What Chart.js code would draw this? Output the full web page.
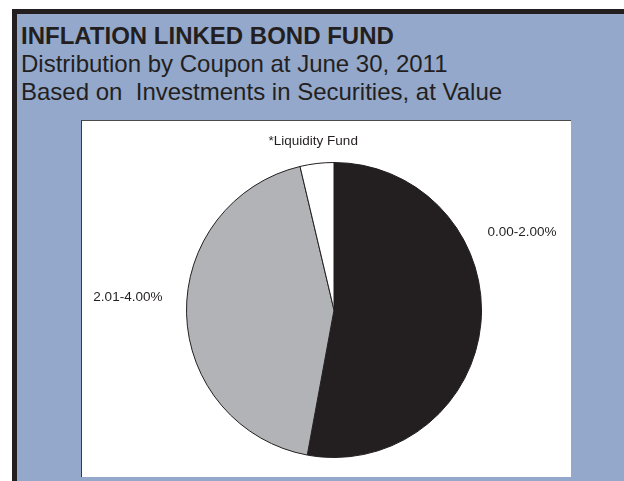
<!DOCTYPE html>
<html>
<head>
<meta charset="utf-8">
<script src="https://cdn.jsdelivr.net/npm/chart.js@4"></script>
<style>
  html, body { margin: 0; padding: 0; background: #ffffff; width: 624px; height: 481px; overflow: hidden; }
  #frame {
    position: absolute; left: 12px; top: 9px; width: 620px; height: 480px;
    background: #93a8cb; border-top: 5px solid #231f20; border-left: 5px solid #231f20;
    box-sizing: border-box;
  }
  .t { position: absolute; left: 4px; font-family: "Liberation Sans", Arial, sans-serif; color: #231f20; white-space: pre; font-size: 24px; line-height: 28px; }
  #t1 { top: 8px; font-weight: bold; }
  #t2 { top: 36px; }
  #t3 { top: 64px; }
  #plot {
    position: absolute; left: 81px; top: 120px; width: 490px; height: 357px;
    background: #ffffff; border-left: 1px solid #3a3a3a; border-top: 1px solid #4a4a4a; box-sizing: border-box;
  }
  #plot canvas { display: block; }
</style>
</head>
<body>
<div id="frame">
  <div class="t" id="t1">INFLATION LINKED BOND FUND</div>
  <div class="t" id="t2">Distribution by Coupon at June 30, 2011</div>
  <div class="t" id="t3">Based on  Investments in Securities, at Value</div>
</div>
<div id="plot"><canvas id="c" width="489" height="356"></canvas></div>
<script>
const categories = ["0.00-2.00%", "2.01-4.00%", "*Liquidity Fund"];
const values = [52.9, 43.4, 3.7];
const sliceColors = ["#231f20", "#b1b3b6", "#ffffff"];

// label placement: angle (deg, clockwise from top) and distance as multiple of radius
const labelPlacement = [
  { angle: 67.5, dist: 1.38 },
  { angle: 273.5, dist: 1.40 },
  { angle: 353, dist: 1.155 }
];

const labelPlugin = {
  id: 'sliceLabels',
  afterDatasetsDraw(chart) {
    const meta = chart.getDatasetMeta(0);
    const arc = meta.data[0];
    const cx = arc.x, cy = arc.y, r = arc.outerRadius;
    const ctx = chart.ctx;
    ctx.save();
    ctx.font = '13.5px "Liberation Sans", Arial, sans-serif';
    ctx.fillStyle = '#231f20';
    ctx.textAlign = 'center';
    ctx.textBaseline = 'middle';
    categories.forEach((lab, i) => {
      const p = labelPlacement[i];
      const a = p.angle * Math.PI / 180;
      ctx.fillText(lab, cx + Math.sin(a) * r * p.dist, cy - Math.cos(a) * r * p.dist);
    });
    ctx.restore();
  }
};

new Chart(document.getElementById('c'), {
  type: 'pie',
  data: {
    labels: categories,
    datasets: [{
      data: values,
      backgroundColor: sliceColors,
      borderColor: '#231f20',
      borderWidth: 1
    }]
  },
  options: {
    responsive: false,
    animation: false,
    rotation: 0,
    layout: { padding: { left: 104, right: 89, top: 41, bottom: 19 } },
    plugins: { legend: { display: false }, tooltip: { enabled: false } }
  },
  plugins: [labelPlugin]
});
</script>
</body>
</html>
